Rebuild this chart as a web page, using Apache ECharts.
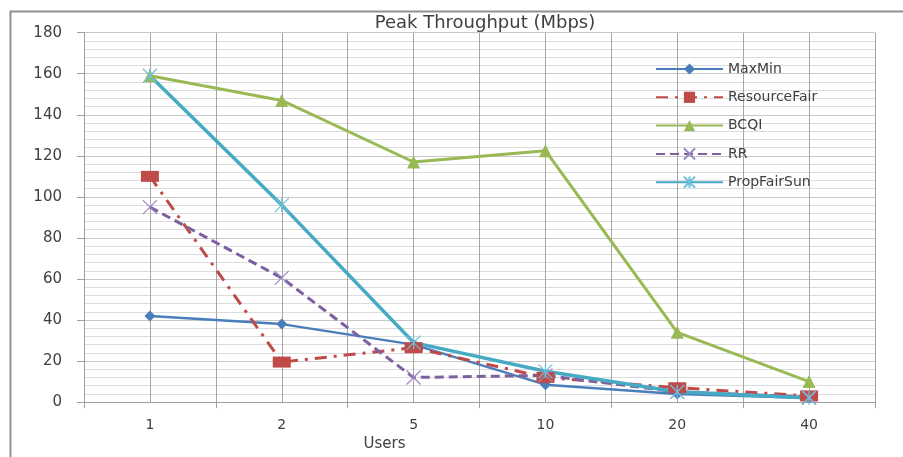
<!DOCTYPE html>
<html>
<head>
<meta charset="utf-8">
<script src="https://cdn.jsdelivr.net/npm/echarts@6/dist/echarts.min.js"></script>
<style>html,body{margin:0;padding:0;background:#fff;}#c{width:903px;height:457px;}</style>
</head>
<body>
<div id="c"></div>
<script>
var categories = ['1', '2', '5', '10', '20', '40'];
var yTicks = [0, 20, 40, 60, 80, 100, 120, 140, 160, 180];
var maxMin = [42, 38, 28, 8.5, 4, 2];
var resourceFair = [110, 19.5, 26.5, 12, 7, 3];
var bcqi = [159, 147, 117, 122.5, 34, 10];
var rr = [95, 60.5, 12, 13, 5, 2.5];
var propFairSun = [159, 96, 29, 15, 5, 2];
var halfSlots = ['', '', '', '', '', '', '', '', '', '', '', ''];

var FONT = 'DejaVu Sans';
var chart = echarts.init(document.getElementById('c'), null, {renderer: 'canvas'});
var xMark = 'path://M0,0L10,10M10,0L0,10';
var starMark = 'path://M0,0L10,10M10,0L0,10M5,0L5,10';

chart.setOption({
  animation: false,
  backgroundColor: '#ffffff',
  title: {
    text: 'Peak Throughput (Mbps)',
    left: 480, textAlign: 'center', top: 9,
    textStyle: {fontFamily: FONT, fontSize: 18, fontWeight: 'normal', color: '#404040'}
  },
  graphic: [{
    type: 'rect', left: 8, top: 9, silent: true,
    shape: {width: 905, height: 460},
    style: {fill: 'none', stroke: '#909090', lineWidth: 2}
  }],
  legend: {
    orient: 'vertical', left: 650, top: 57,
    itemWidth: 67, itemHeight: 14, itemGap: 14.3,
    textStyle: {fontFamily: FONT, fontSize: 14, color: '#404040'},
    data: ['MaxMin', 'ResourceFair', 'BCQI', 'RR', 'PropFairSun']
  },
  grid: {left: 84, right: 28, top: 32.7, bottom: 46.3, containLabel: false},
  xAxis: [{
    type: 'category', data: categories, boundaryGap: true,
    name: 'Users', nameLocation: 'middle', nameGap: 25,
    nameTextStyle: {fontFamily: FONT, fontSize: 15, color: '#404040', padding: [0, 190, 0, 0]},
    axisLine: {lineStyle: {color: '#a0a0a0', width: 1}},
    axisTick: {show: true, length: 6, lineStyle: {color: '#a0a0a0'}},
    axisLabel: {fontFamily: FONT, fontSize: 14, color: '#404040', margin: 16},
    splitLine: {show: false}
  }, {
    type: 'category', data: halfSlots, boundaryGap: true, position: 'bottom',
    axisLine: {show: false}, axisTick: {show: false}, axisLabel: {show: false},
    splitLine: {show: true, lineStyle: {color: '#a6a6a6', width: 1}}
  }],
  yAxis: {
    type: 'value', min: yTicks[0], max: yTicks[yTicks.length - 1], interval: 20,
    axisLine: {show: true, lineStyle: {color: '#a0a0a0'}},
    axisTick: {show: true, length: 7, lineStyle: {color: '#a0a0a0'}},
    axisLabel: {fontFamily: FONT, fontSize: 15, color: '#404040', margin: 22},
    splitLine: {show: true, lineStyle: {color: '#c8c8c8', width: 1}},
    minorTick: {show: false, splitNumber: 5},
    minorSplitLine: {show: true, lineStyle: {color: '#dcdcdc', width: 1}}
  },
  series: [{
    name: 'MaxMin', type: 'line', data: maxMin,
    symbol: 'diamond', symbolSize: 11,
    lineStyle: {color: '#4a7ebb', width: 2.5},
    itemStyle: {color: '#4a7ebb'}
  }, {
    name: 'ResourceFair', type: 'line', data: resourceFair,
    symbol: 'rect', symbolSize: [18, 11],
    lineStyle: {color: '#be4b48', width: 3, type: [12, 7, 3, 7]},
    itemStyle: {color: '#be4b48'}
  }, {
    name: 'BCQI', type: 'line', data: bcqi,
    symbol: 'triangle', symbolSize: 13,
    lineStyle: {color: '#98b954', width: 3},
    itemStyle: {color: '#98b954'}
  }, {
    name: 'RR', type: 'line', data: rr,
    symbol: xMark, symbolSize: 14,
    lineStyle: {color: '#7d60a0', width: 3, type: [9, 5]},
    itemStyle: {color: 'rgba(0,0,0,0)', borderColor: '#9c88c4', borderWidth: 1.2}
  }, {
    name: 'PropFairSun', type: 'line', data: propFairSun,
    symbol: starMark, symbolSize: 14,
    lineStyle: {color: '#46aac5', width: 3.5},
    itemStyle: {color: 'rgba(0,0,0,0)', borderColor: '#6cc0d8', borderWidth: 1.2}
  }]
});
</script>
</body>
</html>
